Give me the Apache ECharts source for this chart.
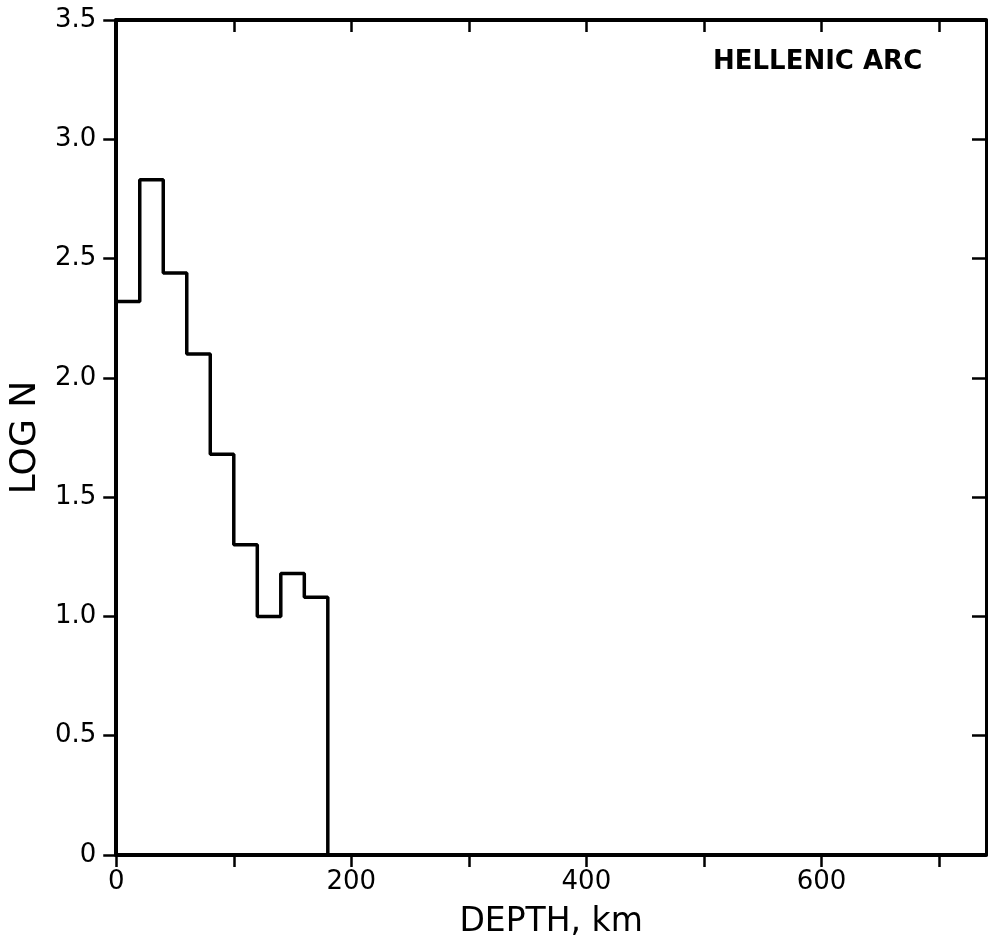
<!DOCTYPE html>
<html>
<head>
<meta charset="utf-8">
<script src="https://cdn.jsdelivr.net/npm/echarts@6/dist/echarts.min.js"></script>
<style>
html,body{margin:0;padding:0;background:#fff;}
#chart{width:989px;height:949px;}
</style>
</head>
<body>
<div id="chart"></div>
<script>
// Bin edges of depth (km) and log10 of event counts per 20 km bin
var binEdges = [0, 20, 40, 60, 80, 100, 120, 140, 160, 180];
var logN = [2.32, 2.83, 2.44, 2.10, 1.68, 1.30, 1.00, 1.18, 1.08];
var xTickLabels = ['0', '200', '400', '600'];
var yTickLabels = ['0', '0.5', '1.0', '1.5', '2.0', '2.5', '3.0', '3.5'];
var panelTitle = 'HELLENIC ARC';
var xName = 'DEPTH, km';
var yName = 'LOG N';

var stepData = binEdges.map(function (e, i) {
  return [e, i < logN.length ? logN[i] : 0];
});

var FONT = 'DejaVu Sans';
var chart = echarts.init(document.getElementById('chart'));
chart.setOption({
  animation: false,
  backgroundColor: '#fff',
  grid: { left: 115, right: 3, top: 20, bottom: 94 },
  xAxis: [{
    type: 'value', position: 'bottom', min: 0, max: 740, interval: 100,
    splitLine: { show: false },
    axisLine: { show: true, onZero: false, lineStyle: { color: '#000', width: 4 } },
    axisTick: { show: true, inside: false, length: 12, lineStyle: { color: '#000', width: 2.5 } },
    axisLabel: {
      show: true, margin: 14, showMaxLabel: false, color: '#000', fontFamily: FONT, fontSize: 26,
      formatter: function (v) { var s = String(v); return xTickLabels.indexOf(s) >= 0 ? s : ''; }
    },
    name: xName, nameLocation: 'middle', nameGap: 51,
    nameTextStyle: { color: '#000', fontFamily: FONT, fontSize: 33 }
  }, {
    type: 'value', position: 'top', min: 0, max: 740, interval: 100,
    splitLine: { show: false },
    axisLine: { show: true, onZero: false, lineStyle: { color: '#000', width: 4 } },
    axisTick: { show: true, inside: true, length: 12, lineStyle: { color: '#000', width: 2.5 } },
    axisLabel: { show: false }
  }],
  yAxis: [{
    type: 'value', position: 'left', min: 0, max: 3.5, interval: 0.5,
    splitLine: { show: false },
    axisLine: { show: true, onZero: false, lineStyle: { color: '#000', width: 4 } },
    axisTick: { show: true, inside: false, length: 13, lineStyle: { color: '#000', width: 2.5 } },
    axisLabel: {
      show: true, margin: 20, color: '#000', fontFamily: FONT, fontSize: 26,
      formatter: function (v) { return yTickLabels[Math.round(v / 0.5)]; }
    },
    name: yName, nameLocation: 'middle', nameGap: 66, nameRotate: 90,
    nameTextStyle: { color: '#000', fontFamily: FONT, fontSize: 36 }
  }, {
    type: 'value', position: 'right', min: 0, max: 3.5, interval: 0.5,
    splitLine: { show: false },
    axisLine: { show: true, onZero: false, lineStyle: { color: '#000', width: 3 } },
    axisTick: { show: true, inside: true, length: 14, lineStyle: { color: '#000', width: 2.5 } },
    axisLabel: { show: false }
  }],
  graphic: [{
    type: 'text', left: 713, top: 49,
    style: { text: panelTitle, fill: '#000', font: 'bold 26px "DejaVu Sans"' }
  }],
  series: [{
    type: 'line', xAxisIndex: 0, yAxisIndex: 0,
    step: 'end', showSymbol: false, symbol: 'none',
    lineStyle: { color: '#000', width: 3.5 },
    data: stepData
  }]
});
</script>
</body>
</html>
